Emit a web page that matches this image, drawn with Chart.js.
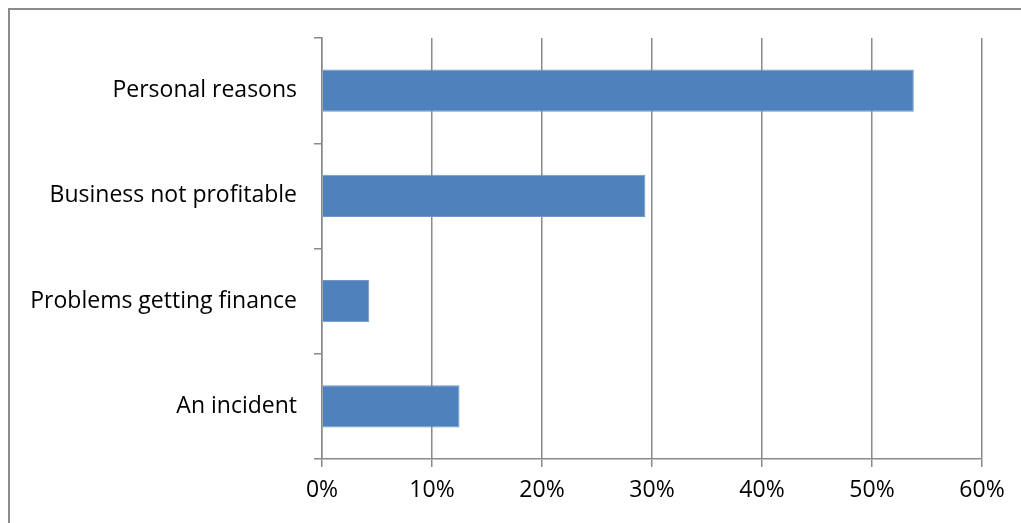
<!DOCTYPE html>
<html lang="en">
<head>
<meta charset="UTF-8">
<title>Reasons</title>
<script src="https://cdn.jsdelivr.net/npm/chart.js"></script>
<style>
  html, body { margin: 0; padding: 0; background: #fff; overflow: hidden; }
  #wrap { position: relative; width: 1021px; height: 523px; }
  #frame { position: absolute; left: 8px; top: 8px; width: 1030px; height: 540px; border: 2px solid #8c8c8c; box-sizing: border-box; }
  canvas { position: absolute; left: 0; top: 0; }
</style>
</head>
<body>
<div id="wrap">
  <div id="frame"></div>
  <canvas id="c" width="1021" height="523"></canvas>
</div>
<script>
const categories = ['Personal reasons', 'Business not profitable', 'Problems getting finance', 'An incident'];
const shares = [53.8, 29.4, 4.3, 12.5];
const tickValues = [0, 10, 20, 30, 40, 50, 60];

const gridGray = '#8a8a8a';
const labelFont = { family: 'Open Sans', size: 23 };

new Chart(document.getElementById('c').getContext('2d'), {
  type: 'bar',
  data: {
    labels: categories,
    datasets: [{
      data: shares,
      backgroundColor: '#4f81bd',
      borderColor: '#6f97c9',
      borderWidth: 1,
      barPercentage: 0.4,
      categoryPercentage: 1.0
    }]
  },
  options: {
    indexAxis: 'y',
    responsive: false,
    animation: false,
    layout: { padding: { top: 38, right: 39, left: 0, bottom: 0 } },
    plugins: { legend: { display: false }, tooltip: { enabled: false } },
    scales: {
      x: {
        min: 0, max: 60,
        afterBuildTicks: s => { s.ticks = tickValues.map(v => ({ value: v })); },
        afterFit: s => { s.height = 64; },
        ticks: {
          callback: v => v + '%',
          color: '#000',
          font: labelFont,
          padding: 10,
          maxRotation: 0
        },
        grid: { color: gridGray, lineWidth: 1.5, tickLength: 8, drawTicks: true },
        border: { color: gridGray, width: 1.5 }
      },
      y: {
        afterFit: s => { s.width = 322; },
        ticks: {
          color: '#000',
          font: labelFont,
          padding: 17
        },
        grid: { drawOnChartArea: false, color: gridGray, lineWidth: 1.5, tickLength: 8, offset: true },
        border: { color: gridGray, width: 1.5 }
      }
    }
  }
});
</script>
</body>
</html>
